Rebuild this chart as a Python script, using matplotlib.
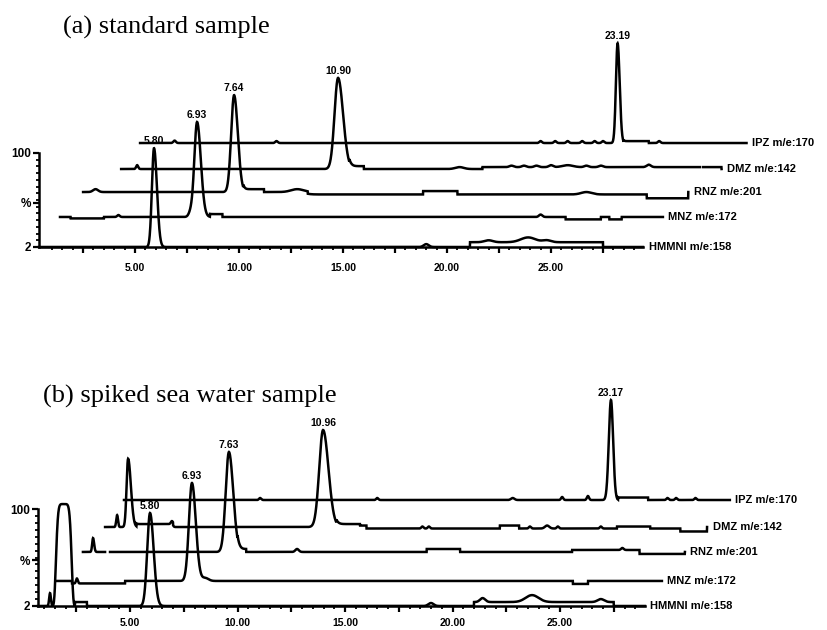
import numpy as np
import matplotlib
matplotlib.use("Agg")
import matplotlib.pyplot as plt

# ---------------- data ----------------
TRACE_NAMES = ["HMMNI m/e:158", "MNZ m/e:172", "RNZ m/e:201", "DMZ m/e:142", "IPZ m/e:170"]

# panel (a) standard sample
A_START = [0.38, 1.39, 2.50, 4.33, 5.24]
A_END = [29.42, 30.38, 31.60, 33.20, 34.40]
A_BASE = [2.0, 33.3, 59.3, 83.3, 110.4]
A_PEAK_POS = [5.91, 7.98, 9.76, 14.76, 28.20]
A_PEAK_HEIGHT = [103, 99, 101, 95, 104]
A_PEAK_LABEL = ["5.80", "6.93", "7.64", "10.90", "23.19"]
A_SIG_L = [0.10, 0.13, 0.14, 0.17, 0.08]
A_SIG_R = [0.14, 0.18, 0.18, 0.24, 0.10]
A_STEPS = [
    [(21.1, 27.5, 5)],
    [(1.9, 3.5, -1.5), (8.6, 9.2, 3), (25.7, 27.4, -2.5), (27.8, 28.4, -2.5)],
    [(10.2, 11.2, 3), (13.3, 31.6, -2.5), (18.85, 20.5, 3.5), (29.6, 31.6, -4)],
    [(15.3, 16.0, 3), (21.7, 33.2, 2)],
    [(28.5, 29.7, 2)],
]
A_BUMPS = [
    [(19.0, 3, 0.12), (22.0, 2, 0.2), (23.9, 5, 0.35), (24.8, 2, 0.2)],
    [(4.2, 2, 0.06), (7.68, 5, 0.1), (24.5, 2.5, 0.08)],
    [(3.1, 3, 0.12), (12.8, 3, 0.3), (26.7, 2.5, 0.25)],
    [(5.1, 4, 0.05), (20.6, 2, 0.2), (23.1, 1.5, 0.1), (23.7, 1.5, 0.1), (24.3, 1.5, 0.1),
     (25.0, 2, 0.1), (25.8, 2, 0.25), (26.7, 1.5, 0.1), (27.4, 1.5, 0.1), (29.7, 2.5, 0.1)],
    [(6.9, 2.5, 0.06), (11.8, 2, 0.06), (24.5, 2, 0.06), (25.2, 2, 0.06), (25.8, 2, 0.06),
     (26.5, 2, 0.06), (27.1, 2, 0.06), (27.5, 2, 0.06), (30.2, 2, 0.06)],
]
A_GAPS = [[], [], [], [(32.16, 32.3)], []]
A_EXTRA = []          # (trace, centre, height, sigma_left, sigma_right)
A_SATURATED = []      # (trace, centre, height, half width)

# panel (b) spiked sea water sample
B_START = [0.72, 1.60, 2.81, 3.84, 4.72]
B_END = [28.95, 29.74, 30.81, 31.84, 32.90]
B_BASE = [2.0, 27.3, 56.6, 81.8, 109.1]
B_PEAK_POS = [5.93, 7.88, 9.60, 13.98, 27.37]
B_PEAK_HEIGHT = [94, 99, 101, 98, 101]
B_PEAK_LABEL = ["5.80", "6.93", "7.63", "10.96", "23.17"]
B_SIG_L = [0.13, 0.14, 0.15, 0.18, 0.10]
B_SIG_R = [0.17, 0.18, 0.20, 0.25, 0.10]
B_STEPS = [
    [(2.44, 3.0, 4), (21.0, 27.5, 4)],
    [(2.3, 4.77, -2.5), (25.6, 26.3, -3)],
    [(10.0, 10.4, 3), (18.8, 20.35, 3), (25.56, 28.7, 2), (28.7, 30.81, -2)],
    [(5.3, 7.0, 3), (14.6, 16.0, 3), (15.7, 31.84, -1.5), (22.2, 23.1, 3), (27.65, 29.2, 2), (30.6, 31.84, -3)],
    [(27.7, 29.1, 2.5)],
]
B_BUMPS = [
    [(19.0, 3, 0.12), (21.4, 4, 0.12), (23.7, 7, 0.3), (26.9, 3, 0.15)],
    [(2.53, 5, 0.04), (8.5, 3, 0.15)],
    [(12.77, 3, 0.08), (27.9, 2, 0.06)],
    [(6.95, 3, 0.05), (18.6, 2, 0.05), (18.9, 2, 0.05), (23.6, 2, 0.05), (24.4, 3, 0.1),
     (24.9, 2, 0.05), (26.9, 2, 0.05)],
    [(11.05, 2, 0.05), (16.5, 2, 0.05), (22.8, 2, 0.08), (25.1, 3, 0.05), (26.3, 4, 0.05),
     (30.0, 2, 0.05), (30.4, 2, 0.05), (31.3, 2, 0.05)],
]
B_GAPS = [[], [], [(3.84, 4.07)], [], []]
B_EXTRA = [(0, 1.28, 13, 0.04, 0.04), (2, 3.28, 14, 0.04, 0.05),
           (3, 4.40, 12, 0.04, 0.04), (3, 4.91, 69, 0.07, 0.13)]
B_SATURATED = [(0, 1.92, 103, 0.38)]

X_MAJOR = [2.5, 5.0, 7.5, 10.0, 12.5, 15.0, 17.5, 20.0, 22.5, 25.0, 27.5]
X_LABELED = [5.0, 10.0, 15.0, 20.0, 25.0]
Y_TICKS = [2, 48, 100]
Y_TICK_LABELS = ["2", "%", "100"]

TITLE_A = "(a) standard sample"
TITLE_B = "(b) spiked sea water sample"

SANS = ["Liberation Sans", "DejaVu Sans"]
SERIF = ["Liberation Serif", "DejaVu Serif"]


def build_trace(i, start, end, base, ppos, ph, sl, sr, steps, bumps, gaps, extra, sat):
    x = np.linspace(start[i], end[i], 4000)
    y = np.full_like(x, base[i])
    peaks = [(ppos[i], ph[i], sl[i], sr[i])] + [(c, h, a, b) for (t, c, h, a, b) in extra if t == i]
    for c, h, a, b in peaks:
        s = np.where(x < c, a, b)
        y = y + h * np.exp(-0.5 * ((x - c) / s) ** 2)
    for t, c, h, w in sat:
        if t == i:
            y = y + h * np.exp(-(np.abs(x - c) / w) ** 6)
    for x0, x1, dy in steps[i]:
        y = y + np.where((x >= x0) & (x < x1), dy, 0.0)
    for c, h, w in bumps[i]:
        y = y + h * np.exp(-0.5 * ((x - c) / w) ** 2)
    for g0, g1 in gaps[i]:
        y = np.where((x > g0) & (x < g1), np.nan, y)
    return x, y


def draw_panel(ax, start, end, base, ppos, ph, labels, sl, sr, steps, bumps, gaps, extra, sat, xpad):
    for i, name in enumerate(TRACE_NAMES):
        x, y = build_trace(i, start, end, base, ppos, ph, sl, sr, steps, bumps, gaps, extra, sat)
        ax.plot(x, y, color="black", lw=1.8, clip_on=False, solid_joinstyle="miter")
        k = np.argmin(np.abs(x - ppos[i]))
        ax.annotate(labels[i], xy=(x[k], np.nanmax(y[max(k - 40, 0):k + 40])), xytext=(0, 1.5),
                    textcoords="offset points", ha="center", va="bottom",
                    fontsize=7.5, fontweight="bold", family=SANS)
        ax.annotate(name, xy=(x[-1], y[-1]), xytext=(4, 0), textcoords="offset points",
                    ha="left", va="center", fontsize=8, fontweight="bold", family=SANS)
    ax.spines["top"].set_visible(False)
    ax.spines["right"].set_visible(False)
    for s in ("left", "bottom"):
        ax.spines[s].set_linewidth(1.8)
    ax.spines["left"].set_bounds(2, 100)
    ax.spines["bottom"].set_bounds(ax.get_xlim()[0], end[0])
    ax.set_xticks(X_MAJOR)
    ax.set_xticklabels(["%.2f" % v if v in X_LABELED else "" for v in X_MAJOR],
                       fontsize=7.5, fontweight="bold", family=SANS)
    ax.set_xticks(np.arange(1.0, end[0], 0.5), minor=True)
    ax.set_yticks(Y_TICKS)
    ax.set_yticklabels(Y_TICK_LABELS, fontsize=8.5, fontweight="bold", family=SANS)
    ax.set_yticks(np.arange(9, 100, 7), minor=True)
    ax.tick_params(axis="x", which="major", direction="out", length=4, width=1.6, pad=xpad)
    ax.tick_params(axis="x", which="minor", direction="out", length=2, width=1.3)
    ax.tick_params(axis="y", which="major", direction="out", length=4, width=1.6, pad=2)
    ax.tick_params(axis="y", which="minor", direction="out", length=2, width=1.3)
    ax.set_facecolor("none")


W, H = 827, 630
fig = plt.figure(figsize=(W / 100, H / 100), dpi=100)

axA = fig.add_axes([39 / W, 1 - 247 / H, (779.8 - 39) / W, (247 - 28.3) / H])
axA.set_xlim(0.38, 36.0)
axA.set_ylim(2, 230)
draw_panel(axA, A_START, A_END, A_BASE, A_PEAK_POS, A_PEAK_HEIGHT, A_PEAK_LABEL,
           A_SIG_L, A_SIG_R, A_STEPS, A_BUMPS, A_GAPS, A_EXTRA, A_SATURATED, 7.5)

axB = fig.add_axes([38 / W, 1 - 606 / H, (796.5 - 38) / W, (606 - 385.3) / H])
axB.set_xlim(0.72, 36.0)
axB.set_ylim(2, 225)
draw_panel(axB, B_START, B_END, B_BASE, B_PEAK_POS, B_PEAK_HEIGHT, B_PEAK_LABEL,
           B_SIG_L, B_SIG_R, B_STEPS, B_BUMPS, B_GAPS, B_EXTRA, B_SATURATED, 4.5)

fig.text(63 / W, 1 - 34 / H, TITLE_A, fontsize=19, family=SERIF, va="baseline", ha="left")
fig.text(43 / W, 1 - 403 / H, TITLE_B, fontsize=19, family=SERIF, va="baseline", ha="left")

fig.savefig("out.png", dpi=100)
